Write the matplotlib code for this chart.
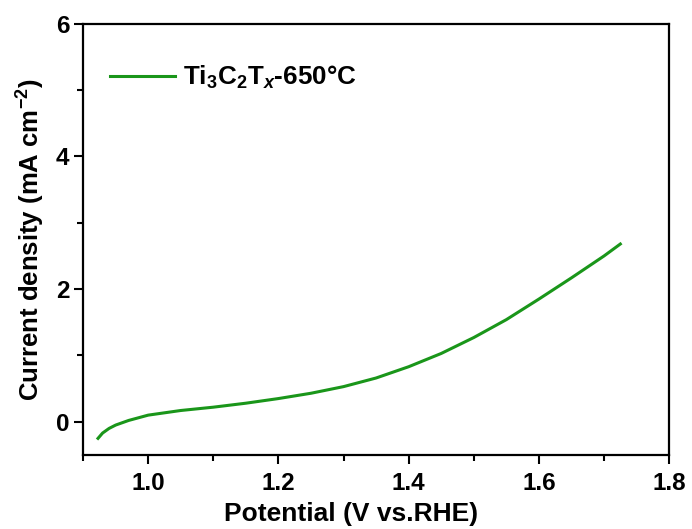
import matplotlib
matplotlib.use('Agg')
import matplotlib.pyplot as plt
from matplotlib.ticker import MultipleLocator

plt.rcParams['font.family'] = ['Liberation Sans', 'DejaVu Sans']
plt.rcParams['font.weight'] = 'bold'
plt.rcParams['mathtext.fontset'] = 'custom'
plt.rcParams['mathtext.rm'] = 'Liberation Sans:bold'
plt.rcParams['mathtext.it'] = 'Liberation Sans:italic:bold'
plt.rcParams['mathtext.bf'] = 'Liberation Sans:bold'

potential = [0.923, 0.93, 0.94, 0.95, 0.97, 1.00, 1.05, 1.10, 1.15, 1.20, 1.25,
             1.30, 1.35, 1.40, 1.45, 1.50, 1.55, 1.60, 1.65, 1.70, 1.725]
current = [-0.25, -0.17, -0.10, -0.05, 0.02, 0.10, 0.17, 0.22, 0.28, 0.35, 0.43,
           0.53, 0.66, 0.83, 1.03, 1.27, 1.54, 1.85, 2.17, 2.50, 2.68]
label = r'Ti$_\mathrm{3}$C$_\mathrm{2}$T$_\mathit{x}$-650°C'

fig = plt.figure(figsize=(6.92, 5.29), dpi=100)
ax = fig.add_axes([0.12, 0.14, 0.847, 0.815])
ax.plot(potential, current, color='#1a961a', lw=2.2, label=label)

ax.set_xlim(0.9, 1.8)
ax.set_ylim(-0.5, 6)
ax.xaxis.set_major_locator(MultipleLocator(0.2))
ax.xaxis.set_minor_locator(MultipleLocator(0.1))
ax.yaxis.set_major_locator(MultipleLocator(2))
ax.yaxis.set_minor_locator(MultipleLocator(1))
ax.tick_params(which='both', direction='out', width=1.5, labelsize=17.5)
ax.tick_params(which='major', length=6.5)
ax.tick_params(which='minor', length=4)
ax.tick_params(axis='x', pad=6)
for s in ax.spines.values():
    s.set_linewidth(1.6)

ax.set_xlabel('Potential (V vs.RHE)', fontsize=19, fontweight='bold')
ax.xaxis.set_label_coords(0.457, -0.108)
ax.set_ylabel('Current density (mA cm$^\\mathrm{-2}$)', fontsize=18.5, fontweight='bold', labelpad=6)

ax.legend(loc='center left', frameon=False, fontsize=18.7, handlelength=2.5,
          handletextpad=0.3, borderpad=0, borderaxespad=0,
          bbox_to_anchor=(0.046, 0.875))

fig.savefig('out.png', dpi=100)
